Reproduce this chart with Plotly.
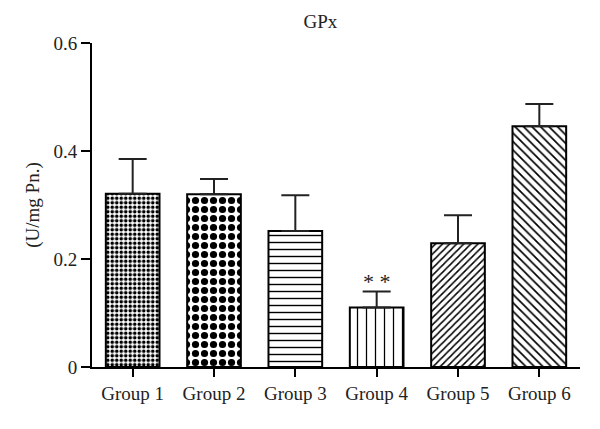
import plotly.graph_objects as go

groups = ["Group 1", "Group 2", "Group 3", "Group 4", "Group 5", "Group 6"]
means = [0.321, 0.320, 0.252, 0.110, 0.229, 0.446]
err_upper = [0.064, 0.028, 0.066, 0.030, 0.052, 0.041]
patterns = [".", ".", "-", "|", "/", "\\"]
pattern_sizes = [4.5, 9, 7, 9, 5, 6]
pattern_solid = [0.5, 0.5, 0.2, 0.14, 0.3, 0.28]
tick_vals = [0, 0.2, 0.4, 0.6]
tick_text = ["0", "0.2", "0.4", "0.6"]

serif = "Liberation Serif, Times New Roman, serif"

fig = go.Figure()
for i, g in enumerate(groups):
    fig.add_trace(
        go.Bar(
            x=[g],
            y=[means[i]],
            width=0.66,
            marker=dict(
                color="white",
                line=dict(color="black", width=2),
                pattern=dict(
                    shape=patterns[i],
                    size=pattern_sizes[i],
                    solidity=pattern_solid[i],
                    fgcolor="black",
                    fgopacity=1,
                    bgcolor="white",
                ),
            ),
            error_y=dict(
                type="data",
                symmetric=False,
                array=[err_upper[i]],
                arrayminus=[0],
                color="#222222",
                thickness=2,
                width=14,
            ),
            showlegend=False,
        )
    )

# significance marker over Group 4
fig.add_annotation(
    x="Group 4",
    y=means[3] + err_upper[3],
    text="* *",
    showarrow=False,
    yshift=10,
    font=dict(family=serif, size=22, color="#222222"),
)

# page body adds 8px around the figure
fig.update_layout(
    width=584,
    height=413,
    margin=dict(l=84, r=12, t=35, b=54),
    plot_bgcolor="white",
    paper_bgcolor="white",
    title=dict(
        text="GPx",
        x=0.535,
        xanchor="center",
        y=0.968,
        yanchor="middle",
        font=dict(family=serif, size=19, color="#222222"),
    ),
    font=dict(family=serif, color="#222222"),
)
fig.update_xaxes(
    range=[-0.5, 5.5],
    showline=True,
    linecolor="black",
    linewidth=2,
    ticks="outside",
    ticklen=8,
    tickwidth=1.5,
    tickcolor="black",
    tickfont=dict(family=serif, size=19, color="#222222"),
    showgrid=False,
    automargin=False,
)
fig.update_yaxes(
    range=[0, 0.6],
    tickvals=tick_vals,
    ticktext=tick_text,
    showline=True,
    linecolor="black",
    linewidth=2,
    ticks="outside",
    ticklen=9,
    tickwidth=1.5,
    tickcolor="black",
    tickfont=dict(family=serif, size=19, color="#222222"),
    showgrid=False,
    zeroline=False,
    automargin=False,
    title=dict(
        text="(U/mg Pn.)",
        font=dict(family=serif, size=19, color="#222222"),
        standoff=9,
    ),
)

fig.write_html("out.html")
